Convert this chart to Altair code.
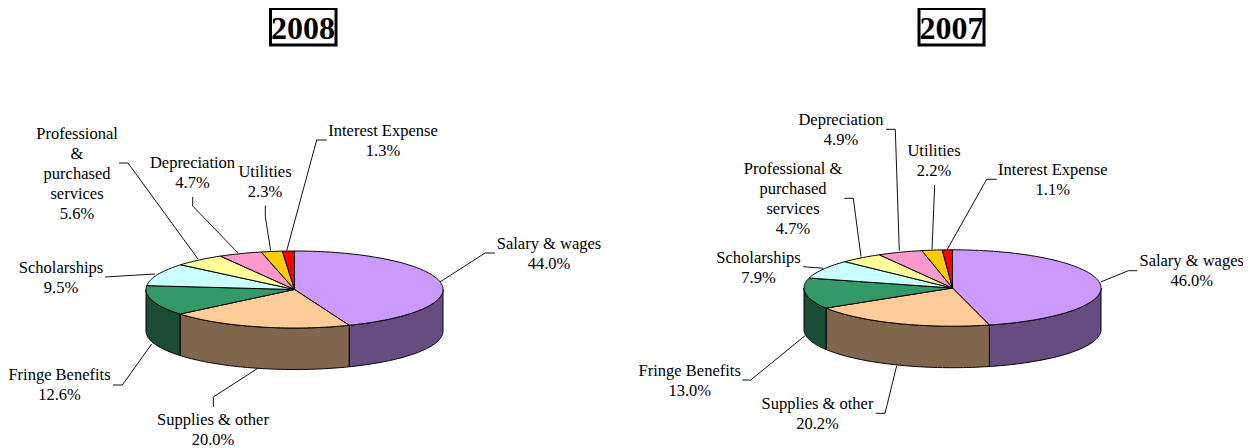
import math
import altair as alt
import pandas as pd

# ---- data ----
categories = ["Salary & wages", "Supplies & other", "Fringe Benefits", "Scholarships",
              "Professional & purchased services", "Depreciation", "Utilities", "Interest Expense"]
share_2008 = [44.0, 20.0, 12.6, 9.5, 5.6, 4.7, 2.3, 1.3]
share_2007 = [46.0, 20.2, 13.0, 7.9, 4.7, 4.9, 2.2, 1.1]
years = ["2008", "2007"]

# ---- styling ----
top_colors = ["#cc99ff", "#ffcc99", "#339966", "#ccffff", "#ffff99", "#ff99cc", "#ffcc00", "#ff0000"]
side_colors = ["#664c80", "#80664d", "#1a4d33", "#668080", "#808050", "#804d66", "#806600", "#800000"]
FONT = "Liberation Serif"

# ---- layout (page pixels) ----
PIES = {"2008": dict(cx=294.5, cy=289.5, rx=148.5, ry=38.5, depth=41.5, values=share_2008),
        "2007": dict(cx=952.5, cy=288.0, rx=148.5, ry=38.2, depth=41.5, values=share_2007)}

TITLES = [("2008", 303, 29, 270.5, 336, 8.5, 45), ("2007", 951.5, 29, 919, 984, 8.5, 45)]

LABELS = {
    "2008": [
        (549, 244, ["Salary & wages", "44.0%"]),
        (213, 420, ["Supplies & other", "20.0%"]),
        (59.5, 375, ["Fringe Benefits", "12.6%"]),
        (61, 268, ["Scholarships", "9.5%"]),
        (77, 134, ["Professional", "&", "purchased", "services", "5.6%"]),
        (192.5, 163, ["Depreciation", "4.7%"]),
        (265, 172, ["Utilities", "2.3%"]),
        (383, 131, ["Interest Expense", "1.3%"]),
    ],
    "2007": [
        (1191.7, 261, ["Salary & wages", "46.0%"]),
        (817.5, 404, ["Supplies & other", "20.2%"]),
        (689.7, 371, ["Fringe Benefits", "13.0%"]),
        (758.5, 258, ["Scholarships", "7.9%"]),
        (793, 169, ["Professional &", "purchased", "services", "4.7%"]),
        (841, 120, ["Depreciation", "4.9%"]),
        (934, 151, ["Utilities", "2.2%"]),
        (1052.8, 170, ["Interest Expense", "1.1%"]),
    ],
}
LINE_STEP = 20

LEADERS = [
    [(440, 282), (485, 253), (495, 253)],
    [(286.7, 250.7), (316.7, 140), (326.7, 140)],
    [(198, 259), (128, 163), (119, 163)],
    [(238, 253), (192.7, 206), (192.7, 197)],
    [(270.7, 250.7), (265.3, 216.7), (265.3, 205.7)],
    [(155, 274), (105, 277)],
    [(151.7, 344), (122.3, 385), (113, 385)],
    [(258.3, 368), (213.3, 397), (213.3, 407)],
    [(1100.7, 282), (1128.3, 270.7), (1137.3, 270.7)],
    [(947.3, 249.3), (986.7, 179.3), (996.7, 179.3)],
    [(932, 249.3), (934.7, 185)],
    [(899.3, 250.7), (895.3, 129.3), (886, 129.3)],
    [(861, 256.7), (853.3, 198.3), (844.3, 198.3)],
    [(803.3, 266.7), (823.3, 268.3)],
    [(805, 335.7), (750.7, 380), (742.3, 380)],
    [(896.7, 365.7), (885, 413.3), (875.7, 413.3)],
]


def rim(p, deg, drop=0.0):
    a = math.radians(deg)
    return p["cx"] + p["rx"] * math.sin(a), p["cy"] - p["ry"] * math.cos(a) + drop


def sweep(a0, a1):
    n = max(2, int(abs(a1 - a0)) + 1)
    return [a0 + (a1 - a0) * i / (n - 1) for i in range(n)]


tops, walls = [], []
for year in years:
    p = PIES[year]
    start = 0.0
    for i, v in enumerate(p["values"]):
        end = start + v * 3.6
        key = f"{year}-{i}"
        pts = [(p["cx"], p["cy"])] + [rim(p, a) for a in sweep(start, end)] + [(p["cx"], p["cy"])]
        tops += [dict(key=key, o=j, x=x, y=y, fill=top_colors[i]) for j, (x, y) in enumerate(pts)]
        lo, hi = max(start, 90.0), min(end, 270.0)
        if hi > lo:
            arc = sweep(lo, hi)
            pts = [rim(p, a) for a in arc] + [rim(p, a, p["depth"]) for a in reversed(arc)]
            pts.append(pts[0])
            walls += [dict(key=key, o=j, x=x, y=y, fill=side_colors[i]) for j, (x, y) in enumerate(pts)]
        start = end

text_rows = []
for year in years:
    for cx, y0, lines in LABELS[year]:
        for k, t in enumerate(lines):
            text_rows.append(dict(x=cx, y=y0 + k * LINE_STEP, t=t))

leader_rows = []
for n, poly in enumerate(LEADERS):
    for j, (x, y) in enumerate(poly):
        leader_rows.append(dict(key=n, o=j, x=x, y=y))

title_rows = [dict(t=t, x=x, y=y, x0=x0, x1=x1, y0=y0, y1=y1) for t, x, y, x0, x1, y0, y1 in TITLES]

XS = alt.Scale(domain=[8, 1243], nice=False, zero=False)
YS = alt.Scale(domain=[448, 8], nice=False, zero=False)
X = alt.X("x:Q", scale=XS, axis=None)
Y = alt.Y("y:Q", scale=YS, axis=None)


def polys(rows):
    return alt.Chart(pd.DataFrame(rows)).mark_line(strokeWidth=1, stroke="#000000", strokeJoin="round").encode(
        x=X, y=Y, detail="key:N", order="o:Q",
        fill=alt.Fill("fill:N", scale=None),
    )


leaders = alt.Chart(pd.DataFrame(leader_rows)).mark_line(strokeWidth=1, color="#111111").encode(
    x=X, y=Y, detail="key:N", order="o:Q")

labels = alt.Chart(pd.DataFrame(text_rows)).mark_text(
    font=FONT, fontSize=16.5, baseline="middle", align="center", color="#000000"
).encode(x=X, y=Y, text="t:N")

boxes = alt.Chart(pd.DataFrame(title_rows)).mark_rect(
    fill="#ffffff", stroke="#000000", strokeWidth=3
).encode(x=alt.X("x0:Q", scale=XS, axis=None), x2="x1:Q",
         y=alt.Y("y0:Q", scale=YS, axis=None), y2="y1:Q")

titles = alt.Chart(pd.DataFrame(title_rows)).mark_text(
    font=FONT, fontSize=32, fontWeight="bold", baseline="middle", align="center", color="#000000"
).encode(x=X, y=Y, text="t:N")

chart = alt.layer(polys(walls), polys(tops), leaders, labels, boxes, titles).properties(
    width=1235, height=440, padding=0,
    autosize=alt.AutoSizeParams(type="none"),
    background="#ffffff",
).configure_view(stroke=None)

chart.save("out.html", embed_options={"renderer": "svg", "actions": False})
